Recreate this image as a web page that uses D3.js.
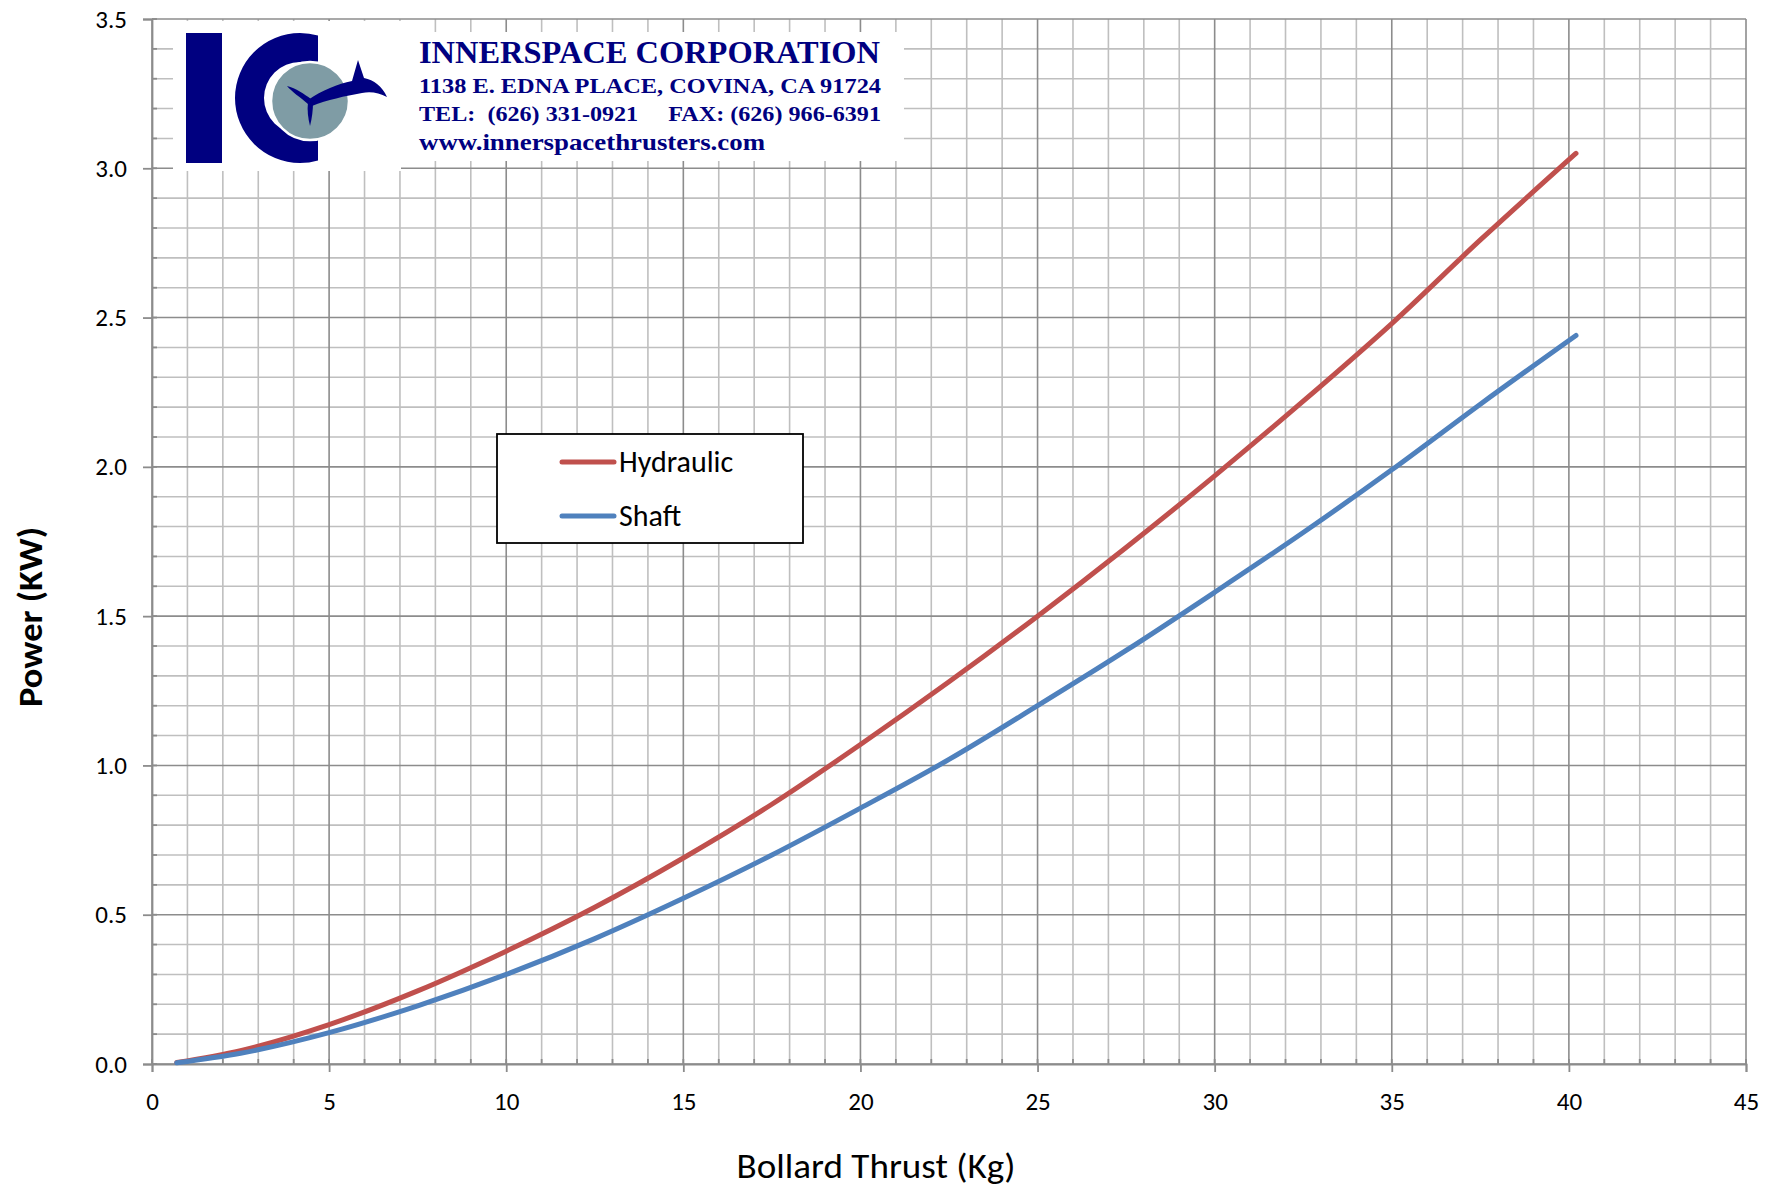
<!DOCTYPE html>
<html>
<head>
<meta charset="utf-8">
<script src="https://cdn.jsdelivr.net/npm/d3@7"></script>
<style>
  body { margin: 0; background: #fff; }
  text { font-family: Calibri, Carlito, Lato, sans-serif; }
  .logo text { font-family: "Liberation Serif", "Times New Roman", serif; font-weight: bold; fill: #000080; white-space: pre; }
</style>
</head>
<body>
<div id="chart"></div>
<script>
'use strict';

var thrust    = [0.7, 2.5, 5, 7.5, 10, 12.5, 15, 17.5, 20, 22.5, 25, 27.5, 30, 32.5, 35, 37.5, 40.2];
var hydraulic = [0.005, 0.045, 0.132, 0.245, 0.378, 0.525, 0.69, 0.87, 1.07, 1.28, 1.50, 1.73, 1.97, 2.22, 2.48, 2.76, 3.05];
var shaft     = [0.004, 0.036, 0.105, 0.195, 0.30, 0.42, 0.555, 0.70, 0.857, 1.02, 1.20, 1.385, 1.58, 1.78, 1.99, 2.21, 2.44];

var xTicks = [0, 5, 10, 15, 20, 25, 30, 35, 40, 45];
var yTicks = [0, 0.5, 1.0, 1.5, 2.0, 2.5, 3.0, 3.5];
var seriesNames  = ['Hydraulic', 'Shaft'];
var seriesColors = ['#C0504D', '#4F81BD'];

var width = 1769,
    height = 1188;

var x = d3.scaleLinear().domain([0, 45]).range([152, 1746]);
var y = d3.scaleLinear().domain([0, 3.5]).range([1064, 19]);

var svg = d3.select('#chart')
    .append('svg')
    .attr('width', width)
    .attr('height', height);

// grid: minor every 1 kg / 0.1 kW, major on the ticks
var minorX = d3.range(0, 46, 1),
    minorY = d3.range(0, 36, 1).map(function(d){ return d / 10; });

var grid = svg.append('g');
grid.selectAll('.vminor')
    .data(minorX.filter(function(d){ return d % 5 !== 0; }))
    .enter().append('line')
    .attr('x1', x).attr('x2', x)
    .attr('y1', y(0)).attr('y2', y(3.5))
    .attr('stroke', '#bfbfbf').attr('stroke-width', 1.6);
grid.selectAll('.hminor')
    .data(minorY.filter(function(d){ return Math.round(d * 10) % 5 !== 0; }))
    .enter().append('line')
    .attr('y1', y).attr('y2', y)
    .attr('x1', x(0)).attr('x2', x(45))
    .attr('stroke', '#bfbfbf').attr('stroke-width', 1.6);
grid.selectAll('.vmajor')
    .data(xTicks)
    .enter().append('line')
    .attr('x1', x).attr('x2', x)
    .attr('y1', y(0)).attr('y2', y(3.5))
    .attr('stroke', '#8c8c8c').attr('stroke-width', 1.6);
grid.selectAll('.hmajor')
    .data(yTicks)
    .enter().append('line')
    .attr('y1', y).attr('y2', y)
    .attr('x1', x(0)).attr('x2', x(45))
    .attr('stroke', '#8c8c8c').attr('stroke-width', 1.6);

// axes
var xAxis = d3.axisBottom(x).tickValues(xTicks).tickSize(8).tickPadding(20).tickFormat(d3.format('d'));
var yAxis = d3.axisLeft(y).tickValues(yTicks).tickSize(9).tickPadding(16).tickFormat(d3.format('.1f'));

var gx = svg.append('g')
    .attr('transform', 'translate(0,' + y(0) + ')')
    .call(xAxis);
var gy = svg.append('g')
    .attr('transform', 'translate(' + x(0) + ',0)')
    .call(yAxis);

[gx, gy].forEach(function(g){
    g.select('.domain').attr('stroke', '#8c8c8c').attr('stroke-width', 1.8);
    g.selectAll('.tick line').attr('stroke', '#8c8c8c').attr('stroke-width', 1.8);
    g.selectAll('.tick text')
        .attr('fill', '#000')
        .style('font-size', '25px')
        .style('font-family', 'Calibri, Carlito, Lato, sans-serif');
});

// small inner ticks on the minor steps
svg.append('g').selectAll('line')
    .data(minorX)
    .enter().append('line')
    .attr('x1', x).attr('x2', x)
    .attr('y1', y(0)).attr('y2', y(0) - 5)
    .attr('stroke', '#8c8c8c').attr('stroke-width', 1.8);
svg.append('g').selectAll('line')
    .data(minorY)
    .enter().append('line')
    .attr('y1', y).attr('y2', y)
    .attr('x1', x(0)).attr('x2', x(0) + 5)
    .attr('stroke', '#8c8c8c').attr('stroke-width', 1.8);

// curves
var line = d3.line()
    .x(function(d){ return x(d[0]); })
    .y(function(d){ return y(d[1]); })
    .curve(d3.curveMonotoneX);

[hydraulic, shaft].forEach(function(vals, i){
    svg.append('path')
        .datum(d3.zip(thrust, vals))
        .attr('d', line)
        .attr('fill', 'none')
        .attr('stroke', seriesColors[i])
        .attr('stroke-width', 5)
        .attr('stroke-linecap', 'round');
});

// logo block
var logo = svg.append('g').attr('class', 'logo');
logo.append('rect').attr('x', 173).attr('y', 21).attr('width', 228).attr('height', 150).attr('fill', '#fff');
logo.append('rect').attr('x', 401).attr('y', 32).attr('width', 503).attr('height', 129).attr('fill', '#fff');

logo.append('rect').attr('x', 186).attr('y', 33).attr('width', 36).attr('height', 130).attr('fill', '#000080');

logo.append('clipPath').attr('id', 'cclip')
    .append('rect').attr('x', 230).attr('y', 25).attr('width', 88).attr('height', 145);
var arc = d3.arc().innerRadius(36).outerRadius(65).startAngle(0).endAngle(2 * Math.PI);
logo.append('g')
    .attr('clip-path', 'url(#cclip)')
    .append('path')
    .attr('d', arc())
    .attr('transform', 'translate(300,98)')
    .attr('fill', '#000080');

logo.append('circle')
    .attr('cx', 310).attr('cy', 101).attr('r', 39)
    .attr('fill', '#7f9ca5')
    .attr('stroke', '#fff').attr('stroke-width', 2.5);

// propeller blades + dolphin
logo.append('path')
    .attr('d', 'M 287 86 C 296 88, 304 94, 311 99 L 308 104 C 300 97, 292 92, 287 86 Z')
    .attr('fill', '#000080');
logo.append('path')
    .attr('d', 'M 308 102 L 313 102 C 313 110, 312 118, 310 126 C 308 118, 307 110, 308 102 Z')
    .attr('fill', '#000080');
logo.append('path')
    .attr('d', 'M 308 100 C 322 90, 338 84, 352 81 L 358 60 L 364 78 C 374 80, 382 86, 387 97 ' +
               'C 379 93, 371 91, 362 93 C 345 96, 327 100, 312 106 Z')
    .attr('fill', '#000080');

logo.append('text').attr('x', 419).attr('y', 63).style('font-size', '31px')
    .attr('textLength', 461).attr('lengthAdjust', 'spacingAndGlyphs')
    .text('INNERSPACE CORPORATION');
logo.append('text').attr('x', 419).attr('y', 93).style('font-size', '22px')
    .attr('textLength', 462).attr('lengthAdjust', 'spacingAndGlyphs')
    .text('1138 E. EDNA PLACE, COVINA, CA 91724');
logo.append('text').attr('x', 419).attr('y', 121).style('font-size', '22px')
    .attr('textLength', 462).attr('lengthAdjust', 'spacingAndGlyphs')
    .text('TEL:  (626) 331-0921     FAX: (626) 966-6391');
logo.append('text').attr('x', 419).attr('y', 150).style('font-size', '24px')
    .attr('textLength', 346).attr('lengthAdjust', 'spacingAndGlyphs')
    .text('www.innerspacethrusters.com');

// legend
var legend = svg.append('g');
legend.append('rect')
    .attr('x', 497).attr('y', 434).attr('width', 306).attr('height', 109)
    .attr('fill', '#fff').attr('stroke', '#000').attr('stroke-width', 1.8);
seriesNames.forEach(function(name, i){
    var ly = 462 + i * 54;
    legend.append('line')
        .attr('x1', 562).attr('x2', 614)
        .attr('y1', ly).attr('y2', ly)
        .attr('stroke', seriesColors[i]).attr('stroke-width', 5)
        .attr('stroke-linecap', 'round');
    legend.append('text')
        .attr('x', 619).attr('y', ly + 10)
        .style('font-size', '30px')
        .attr('fill', '#000')
        .text(name);
});

// axis titles
svg.append('text')
    .attr('x', 876).attr('y', 1178)
    .attr('text-anchor', 'middle')
    .style('font-size', '35px')
    .attr('textLength', 279).attr('lengthAdjust', 'spacingAndGlyphs')
    .text('Bollard Thrust (Kg)');
svg.append('text')
    .attr('transform', 'translate(42,617) rotate(-90)')
    .attr('text-anchor', 'middle')
    .style('font-size', '35px')
    .style('font-weight', 'bold')
    .attr('textLength', 180).attr('lengthAdjust', 'spacingAndGlyphs')
    .text('Power (KW)');
</script>
</body>
</html>
